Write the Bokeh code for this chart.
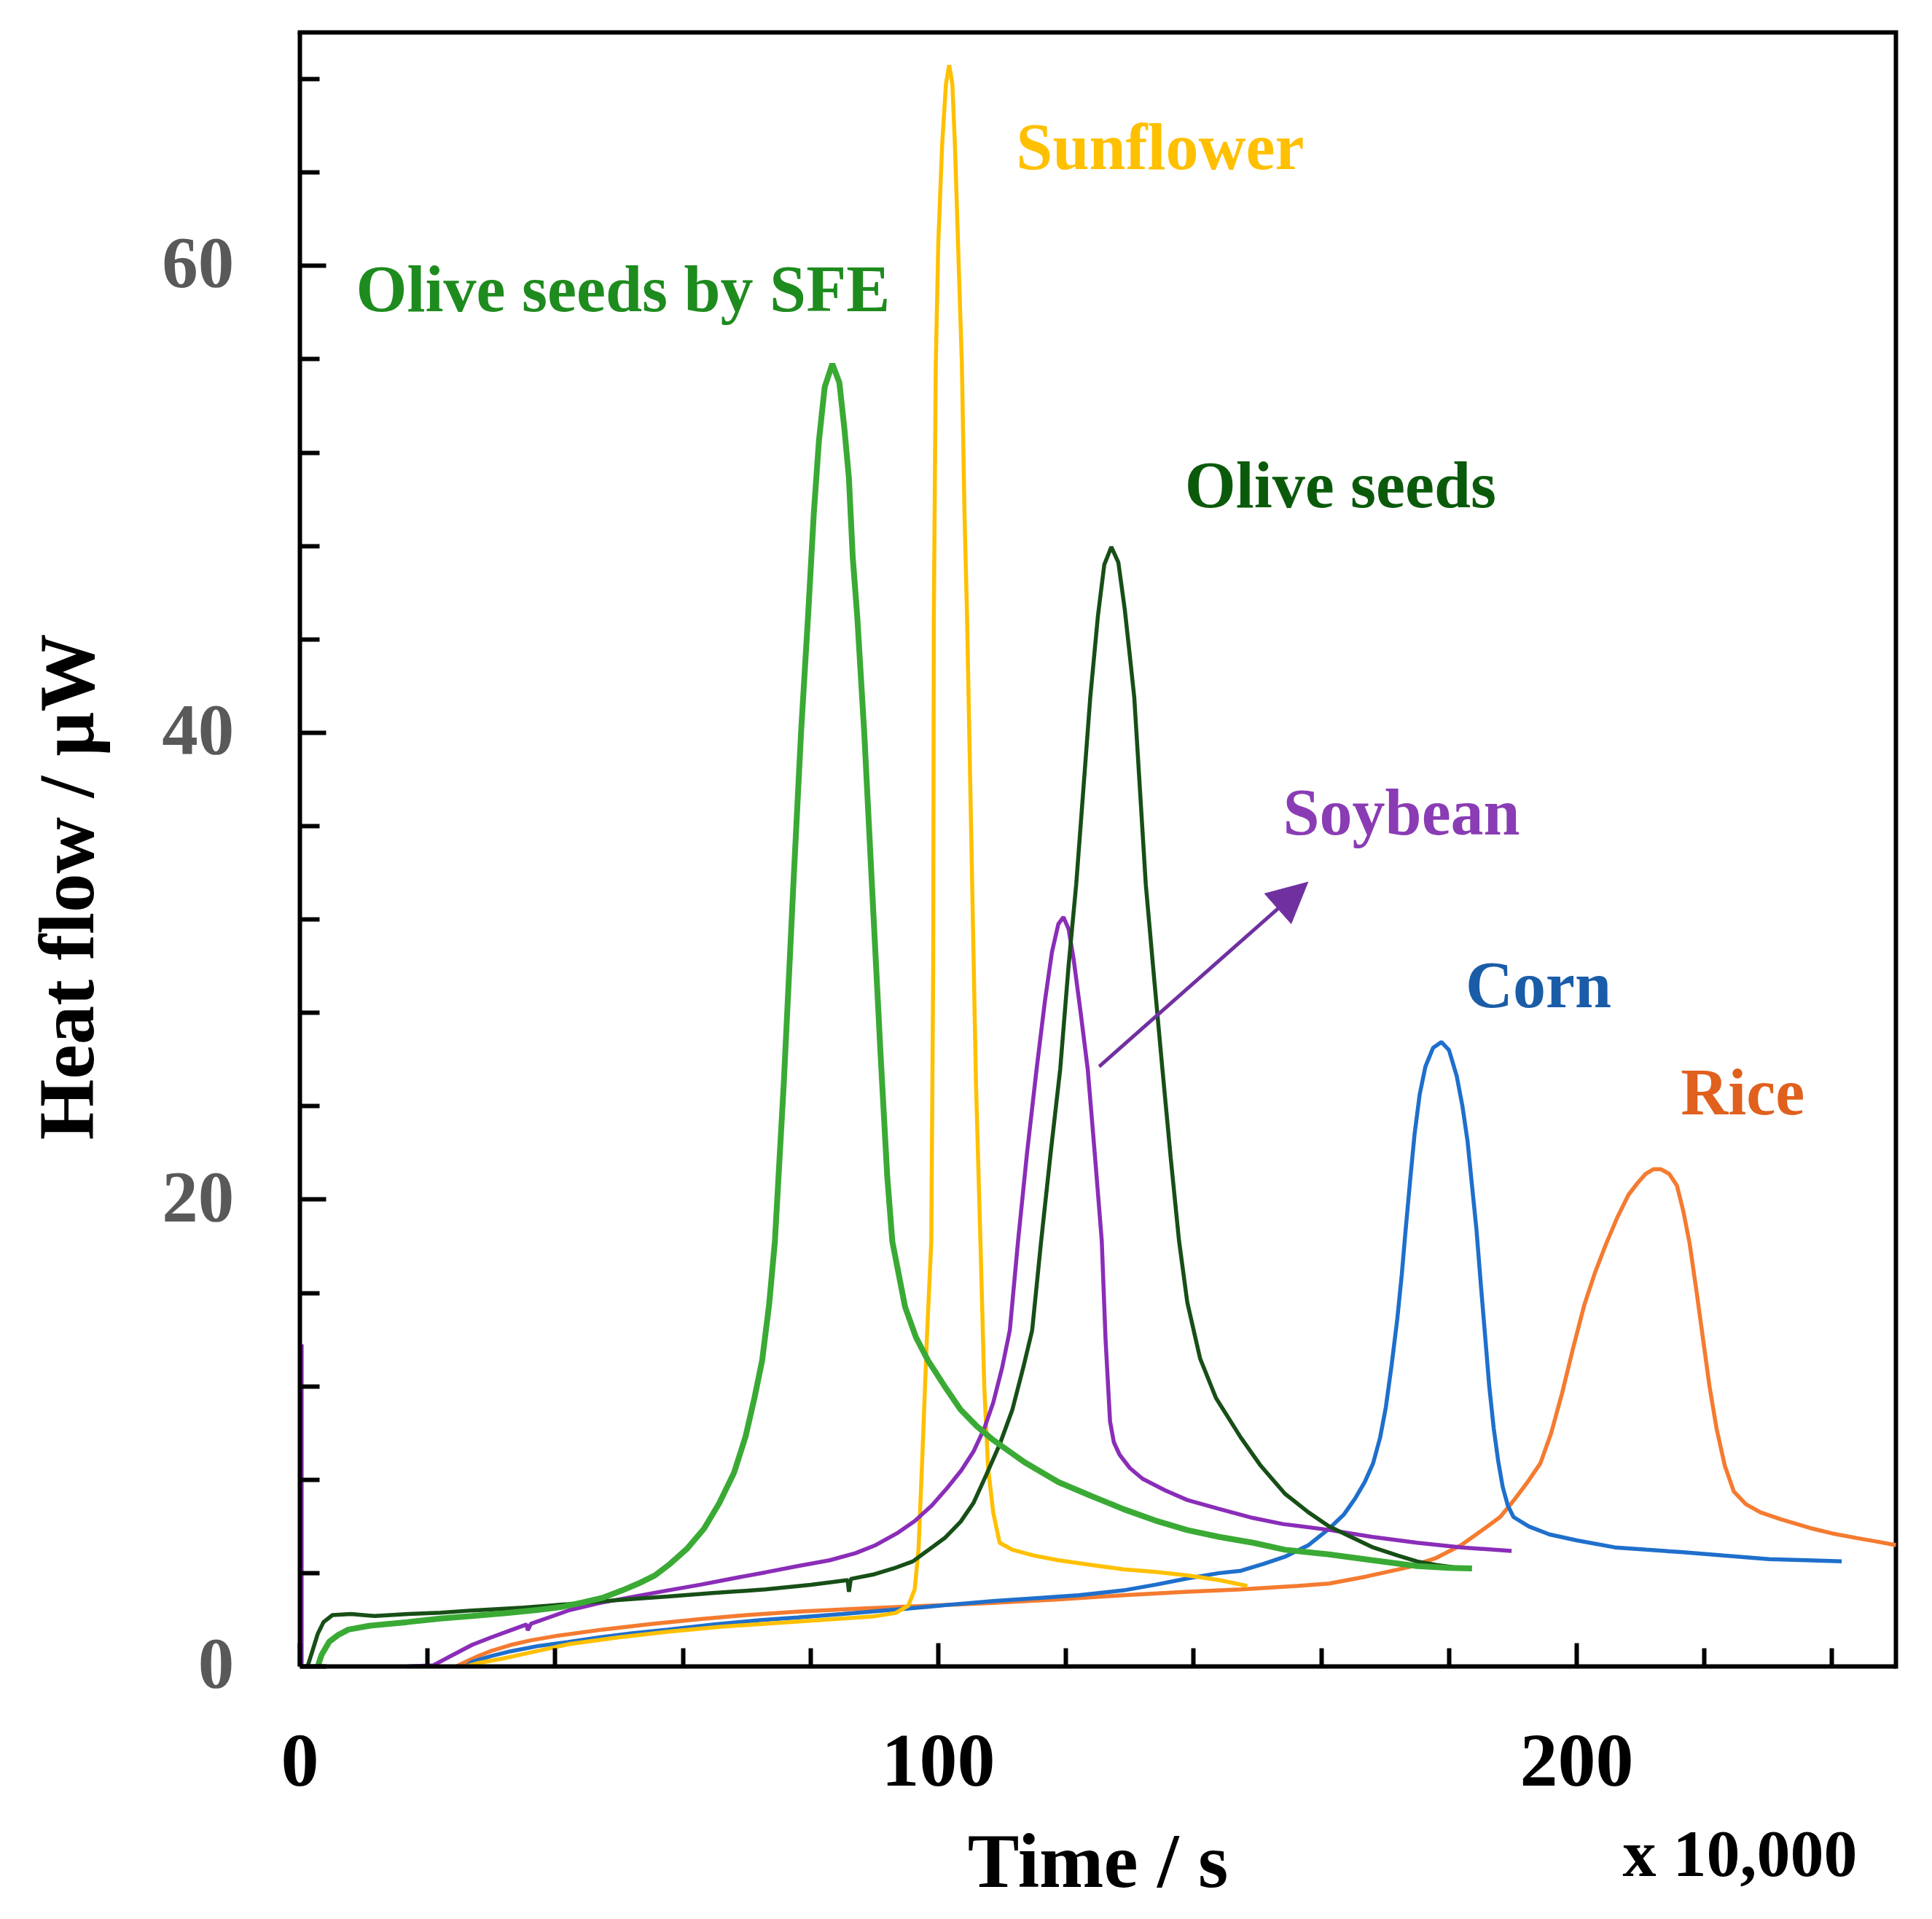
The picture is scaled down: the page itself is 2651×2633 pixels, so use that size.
from bokeh.plotting import figure
from bokeh.models import Range1d, FixedTicker, Arrow, NormalHead, ColumnDataSource
from bokeh.core.properties import value
from bokeh.embed import file_html
from bokeh.resources import INLINE
import math

# Time in units of 10,000 s, heat flow in uW
sunflower_t = [26, 28, 32, 37, 42, 50, 58, 66, 74, 82, 90, 93.3, 95.3, 96.3, 96.9, 97.5,
               98.2, 98.9, 99.2, 99.3, 99.6, 100.0, 100.6, 101.2, 101.7, 102.2, 102.6, 103.2,
               103.7, 104.1, 104.5, 105.2, 105.9, 106.6, 107.2, 107.8, 108.6, 109.6, 111.6,
               115, 118.8, 124, 129, 134, 139, 144, 148.4]
sunflower_q = [0, 0.15, 0.35, 0.65, 0.95, 1.25, 1.5, 1.7, 1.85, 2.0, 2.15, 2.29, 2.6, 3.3, 5,
               9, 14, 18.2, 30, 45, 55.7, 61, 65.2, 67.8, 68.6, 67.8, 65.2, 60,
               55.7, 49.4, 45, 35, 25, 18.2, 12, 8.5, 6.6, 5.3, 5.0,
               4.75, 4.55, 4.35, 4.16, 4.05, 3.9, 3.7, 3.45]

sfe_t = [2.8, 3.4, 4.6, 6, 7.6, 11, 16.8, 22, 27, 32, 37.2, 41, 44.3, 47.5, 50.5, 53, 55.6,
         58, 60.7, 63.3, 65.7, 68, 69.8, 71.2, 72.4, 73.5, 74.4, 75.8, 77.3, 78.5, 79.6, 80.5,
         81.3, 82.2, 83.4, 84.5, 85.3, 86.0, 86.6, 87.3, 88.4, 89.6, 91, 92, 92.8, 94.8, 96.5,
         98.4, 101, 103.5, 106, 108.6, 113.5, 118.8, 124, 129, 134, 139, 144, 149.3, 154.3,
         161.2, 168, 175, 180, 183.6]
sfe_q = [0, 0.5, 1.06, 1.35, 1.58, 1.75, 1.9, 2.05, 2.16, 2.28, 2.42, 2.55, 2.74, 2.95, 3.26,
         3.55, 3.9, 4.4, 5.06, 5.9, 7.0, 8.3, 9.84, 11.5, 13.1, 15.5, 18.2, 25, 33.5, 40, 45,
         49.4, 52.5, 54.8, 55.8, 55, 53, 50.9, 47.5, 45, 40, 33.5, 26, 21, 18.2, 15.4, 14.1,
         13.1, 12.0, 11.0, 10.3, 9.7, 8.75, 7.9, 7.3, 6.74, 6.25, 5.84, 5.55, 5.3, 5.0,
         4.8, 4.55, 4.3, 4.22, 4.2]

olive_t = [1.2, 2.0, 2.8, 3.7, 5.1, 8, 11.7, 17, 22, 27, 35, 42, 50, 57.6, 65, 72.9, 80, 85.8,
           86.0, 86.3, 90, 93, 96, 98, 101, 103.5, 105.5, 107.5, 109.6, 111.6, 113.3, 114.7,
           116.1, 117.6, 119.1, 120.4, 121.6, 122.7, 123.8, 125.0, 126.0, 127.1, 128.2, 129.2,
           130.0, 130.7, 131.6, 132.5, 133.8, 135.1, 136.4, 137.7, 139, 141, 143.5, 147.4,
           150.5, 154.3, 158, 161.2, 165, 168.1, 172, 175, 178, 180.8]
olive_q = [0, 0.7, 1.4, 1.9, 2.2, 2.25, 2.16, 2.25, 2.3, 2.4, 2.52, 2.67, 2.85, 3.0, 3.15, 3.3,
           3.5, 3.7, 3.2, 3.75, 3.95, 4.2, 4.5, 4.9, 5.5, 6.2, 7.0, 8.2, 9.5, 11, 12.8, 14.4,
           18.2, 22, 25.6, 30, 33.5, 37.5, 41.5, 45, 47.2, 47.96, 47.3, 45.3,
           43.3, 41.5, 37.5, 33.5, 29.5, 25.6, 21.8, 18.25, 15.6, 13.2, 11.5, 9.8,
           8.6, 7.4, 6.6, 6.0, 5.5, 5.1, 4.75, 4.5, 4.35, 4.25]

soybean_t = [16.8, 20.9, 24, 27, 30, 33, 35.5, 35.7, 36.2, 39, 42.3, 47, 52.5, 57.5, 62.7,
             67.8, 72.9, 78, 83, 87, 90.2, 93.5, 96.3, 99, 101.4, 103.6, 105.5, 107.2, 108.6,
             110, 111.2, 112.5, 113.9, 115.4, 116.7, 117.8, 118.8, 119.6, 120.4, 121.2, 122.3,
             123.4, 124.5, 125.6, 126.2, 126.9, 127.5, 128.4, 130, 132, 135.5, 139, 144, 149.3,
             154, 161.2, 168, 175, 182, 189.8]
soybean_q = [0, 0.05, 0.5, 0.93, 1.25, 1.55, 1.8, 1.55, 1.83, 2.1, 2.42, 2.72, 3.0, 3.25, 3.5,
             3.77, 4.03, 4.3, 4.55, 4.85, 5.2, 5.7, 6.23, 6.9, 7.65, 8.4, 9.2, 10.2, 11.3,
             12.8, 14.4, 18.25, 22, 25.6, 28.5, 30.6, 31.8, 32.1, 31.6, 30.3, 28,
             25.6, 22, 18.25, 14, 10.5, 9.6, 9.07, 8.5, 8.04, 7.55, 7.13, 6.75, 6.36,
             6.1, 5.85, 5.55, 5.3, 5.1, 4.95]
soybean_start_t = [0.3, 0.3]
soybean_start_q = [0, 13.8]

corn_t = [26, 27, 30, 33, 37.2, 42, 47, 52, 57.6, 65, 72, 78, 85, 95.3, 102, 108.6, 115, 122,
          129, 134, 139, 144, 147.4, 151, 154.3, 158, 161.2, 163.5, 165.3, 166.8, 168.1,
          169.2, 170.1, 171, 171.9, 172.6, 173.2, 173.9, 174.6, 175.4, 176.3, 177.5, 178.8,
          180, 181.2, 182.1, 182.9, 183.6, 184.3, 185, 185.7, 186.3, 187, 187.7, 188.4, 189.2,
          190.1, 192.5, 195.7, 200, 206, 211, 216.3, 223, 230.1, 236, 241.5]
corn_q = [0, 0.2, 0.45, 0.65, 0.87, 1.05, 1.25, 1.42, 1.58, 1.8, 1.98, 2.1, 2.25, 2.48, 2.65,
          2.8, 2.92, 3.05, 3.26, 3.5, 3.77, 4.0, 4.1, 4.4, 4.7, 5.2, 5.9, 6.5, 7.2, 7.9, 8.7,
          9.8, 11.1, 12.9, 14.9, 16.8, 18.7, 20.8, 22.8, 24.5, 25.7, 26.5, 26.75,
          26.4, 25.3, 24.0, 22.5, 20.6, 18.7, 16.3, 14, 12, 10.2, 8.8, 7.7, 6.9,
          6.4, 6.0, 5.66, 5.4, 5.1, 5.0, 4.9, 4.75, 4.6, 4.55, 4.5]

rice_t = [24.5, 26, 28, 30, 33, 36.2, 40, 47.4, 55, 62.7, 70, 78, 88, 98.4, 108, 118.8, 129,
          139, 147.4, 156.3, 161.2, 167, 173.6, 178, 181.9, 185, 188, 190.1, 192.3, 194.3, 196,
          197.7, 199.4, 201.2, 202.9, 204.6, 206.3, 208.1, 209.5, 210.8, 212, 213.2, 214.5,
          215.7, 216.7, 217.7, 218.8, 219.8, 220.8, 221.9, 223.2, 224.6, 226.5, 228.8, 232,
          237, 240, 243.9, 247, 250]
rice_q = [0, 0.2, 0.45, 0.67, 0.92, 1.12, 1.3, 1.58, 1.82, 2.03, 2.2, 2.35, 2.48, 2.6, 2.72,
          2.87, 3.05, 3.2, 3.3, 3.45, 3.55, 3.85, 4.25, 4.65, 5.2, 5.8, 6.4, 7.1, 7.9, 8.7, 10,
          11.7, 13.6, 15.5, 16.9, 18.1, 19.2, 20.2, 20.7, 21.1, 21.3, 21.3, 21.1,
          20.6, 19.5, 18.1, 16, 14.0, 12, 10.2, 8.6, 7.5, 6.95, 6.6, 6.3,
          5.9, 5.7, 5.5, 5.35, 5.2]

label_names = ["Sunflower", "Olive seeds by SFE", "Olive seeds", "Soybean", "Corn", "Rice"]
label_t = [112.2, 8.8, 138.6, 154.0, 182.6, 216.3]
label_q = [65.1, 59.0, 50.6, 36.6, 29.2, 24.6]
label_colors = ["#FFC000", "#1E8B1E", "#0B5A0B", "#8A3CB4", "#1A5CA8", "#E0601E"]

arrow_t = [125.2, 157.9]
arrow_q = [25.7, 33.6]

x_lim = [0, 250]
y_lim = [0, 70]
x_major = [0, 100, 200]
x_minor = [20, 40, 60, 80, 120, 140, 160, 180, 220, 240]
y_major = [0, 20, 40, 60]
y_minor = [4, 8, 12, 16, 24, 28, 32, 36, 44, 48, 52, 56, 64, 68]

FONT = "Liberation Serif"
W, H = 2635, 2617
# where the data box sits on the canvas (pixels)
BOX_L, BOX_R, BOX_T, BOX_B = 411, 2601, 44, 2286

# the frame fills the canvas; the axes sit on the data box through fixed_location
kx = (BOX_R - BOX_L) / (x_lim[1] - x_lim[0])
ky = (BOX_B - BOX_T) / (y_lim[1] - y_lim[0])
x_range = Range1d(x_lim[0] - BOX_L / kx, x_lim[1] + (W - BOX_R) / kx)
y_range = Range1d(y_lim[0] - (H - BOX_B) / ky, y_lim[1] + BOX_T / ky)

p = figure(width=W, height=H, x_range=x_range, y_range=y_range,
           output_backend="svg", toolbar_location=None, min_border=0)
p.grid.visible = False
p.outline_line_color = None

# top and right edges of the box
p.line([x_lim[0], x_lim[1], x_lim[1]], [y_lim[1], y_lim[1], y_lim[0]], line_color="black",
       line_width=6, line_cap="square", line_join="miter")

# curves
p.line(rice_t, rice_q, line_color="#F47B30", line_width=5.5)
p.line(corn_t, corn_q, line_color="#1F6FCC", line_width=5.5)
p.line(sunflower_t, sunflower_q, line_color="#FFC000", line_width=5.5)
p.line(soybean_t, soybean_q, line_color="#8A2DB8", line_width=5.5)
p.line(olive_t, olive_q, line_color="#174F17", line_width=5.5)
p.line(sfe_t, sfe_q, line_color="#3AAA35", line_width=8)
p.line(soybean_start_t, soybean_start_q, line_color="#8A2DB8", line_width=5)

# curve names
src = ColumnDataSource(dict(t=label_t, q=label_q, name=label_names, color=label_colors))
p.text(x="t", y="q", text="name", source=src, text_color="color",
       text_font=value(FONT), text_font_style="bold", text_font_size=value("90px"),
       text_baseline="alphabetic", text_align="left")

# y tick labels, axis titles and the time multiplier
p.text(x=[-10.3] * len(y_major), y=[v + 0.12 for v in y_major], text=[str(v) for v in y_major],
       text_font=value(FONT), text_font_style="bold", text_font_size=value("99px"),
       text_color="#595959", text_align="right", text_baseline="alphabetic")
p.text(x=[-36.5], y=[33.4], text=["Heat flow / \u00b5W"], angle=math.pi / 2,
       text_font=value(FONT), text_font_style="bold", text_font_size=value("107px"),
       text_color="black", text_align="center", text_baseline="alphabetic")
p.text(x=[125], y=[-8.35], text=["Time / s"], text_font=value(FONT), text_font_style="bold",
       text_font_size=value("106px"), text_color="black", text_align="center",
       text_baseline="alphabetic")
p.text(x=[207.2], y=[-8.0], text=["x 10,000"], text_font=value(FONT), text_font_style="bold",
       text_font_size=value("92px"), text_color="black", text_baseline="alphabetic")

p.add_layout(Arrow(end=NormalHead(size=55, fill_color="#7030A0", line_color="#7030A0"),
                   x_start=arrow_t[0], y_start=arrow_q[0], x_end=arrow_t[1], y_end=arrow_q[1],
                   line_color="#7030A0", line_width=5))

# axes
xa = p.xaxis[0]
ya = p.yaxis[0]
xa.fixed_location = y_lim[0]
ya.fixed_location = x_lim[0]
xa.bounds = tuple(x_lim)
ya.bounds = tuple(y_lim)
xa.ticker = FixedTicker(ticks=x_major, minor_ticks=x_minor)
ya.ticker = FixedTicker(ticks=y_major, minor_ticks=y_minor)
for ax in (xa, ya):
    ax.axis_line_width = 6
    ax.major_tick_line_width = 6
    ax.minor_tick_line_width = 6
    ax.major_tick_out = 0
    ax.minor_tick_out = 0

xa.major_tick_in = 32
xa.minor_tick_in = 25
xa.major_label_text_font = FONT
xa.major_label_text_font_style = "bold"
xa.major_label_text_font_size = "104px"
xa.major_label_text_color = "black"
xa.major_label_standoff = 95

ya.major_tick_in = 36
ya.minor_tick_in = 27
ya.major_label_text_color = None

open("out.html", "w").write(file_html(p, INLINE))
